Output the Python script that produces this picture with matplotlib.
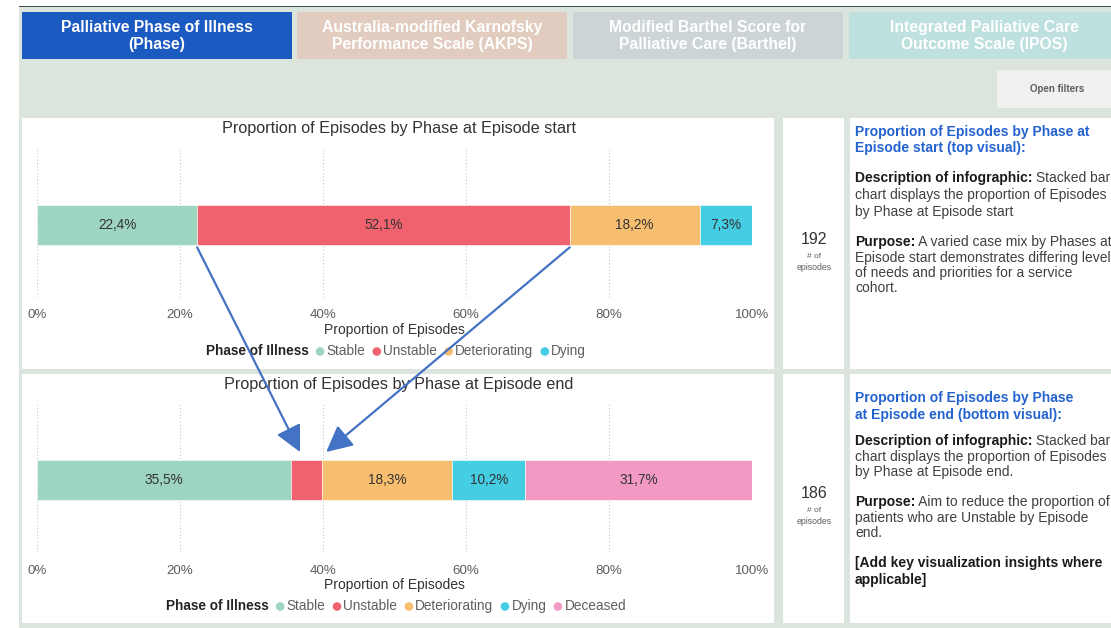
import matplotlib
matplotlib.use('Agg')
import matplotlib.pyplot as plt
from matplotlib.patches import Rectangle, Circle, ConnectionPatch

plt.rcParams['font.family'] = ['Liberation Sans', 'DejaVu Sans']

# ---------------- data ----------------
phases_start = ['Stable', 'Unstable', 'Deteriorating', 'Dying']
values_start = [22.4, 52.1, 18.2, 7.3]
phases_end = ['Stable', 'Unstable', 'Deteriorating', 'Dying', 'Deceased']
values_end = [35.5, 4.3, 18.3, 10.2, 31.7]
episodes_start = 192
episodes_end = 186
tick_values = [0, 20, 40, 60, 80, 100]
tick_labels = ['0%', '20%', '40%', '60%', '80%', '100%']
phase_colors = {'Stable': '#9DD5C0', 'Unstable': '#F0636E', 'Deteriorating': '#F8BE6F',
                'Dying': '#45CDE4', 'Deceased': '#F29AC3'}
tab_labels = ['Palliative Phase of Illness\n(Phase)',
              'Australia-modified Karnofsky\nPerformance Scale (AKPS)',
              'Modified Barthel Score for\nPalliative Care (Barthel)',
              'Integrated Palliative Care\nOutcome Scale (IPOS)']
tab_colors = ['#1B5AC1', '#E1CCBF', '#CCD4D7', '#BEE0DE']
title_start = 'Proportion of Episodes by Phase at Episode start'
title_end = 'Proportion of Episodes by Phase at Episode end'
legend_title = 'Phase of Illness'
xlabel = 'Proportion of Episodes'

W, H = 1111, 628
fig = plt.figure(figsize=(W / 100, H / 100), dpi=100)
fig.patch.set_facecolor('white')

ax_bg = fig.add_axes([0, 0, 1, 1])
ax_bg.set_xlim(0, W)
ax_bg.set_ylim(H, 0)
ax_bg.axis('off')

BG = '#DCE4DE'
ax_bg.add_patch(Rectangle((19, 6), W - 19, H - 6, color=BG, lw=0))
ax_bg.add_patch(Rectangle((19, 5.5), W - 19, 1.6, color='#3E4C52', lw=0))

# tabs
tab_x = [22, 297, 573, 849]
for x0, lab, col in zip(tab_x, tab_labels, tab_colors):
    ax_bg.add_patch(Rectangle((x0, 12), 270, 47, color=col, lw=0))
    ax_bg.text(x0 + 135, 36, lab, ha='center', va='center', fontsize=11.3,
               fontweight='bold', color='white', linespacing=1.1)

# open filters button
ax_bg.add_patch(Rectangle((997, 70), 120, 38, color='#EEF1EE', lw=0))
ax_bg.text(1057, 89, 'Open filters', ha='center', va='center', fontsize=7,
           fontweight='bold', color='#605E5C')

# panels
for (y0, y1) in [(118, 369), (374, 623)]:
    ax_bg.add_patch(Rectangle((22, y0), 752, y1 - y0, color='white', lw=0))
    ax_bg.add_patch(Rectangle((783, y0), 61, y1 - y0, color='white', lw=0))
    ax_bg.add_patch(Rectangle((850, y0), 270, y1 - y0, color='white', lw=0))


def fig_rect(x0, y0, x1, y1):
    return [x0 / W, 1 - y1 / H, (x1 - x0) / W, (y1 - y0) / H]


def fmt(v):
    return f'{v:.1f}'.replace('.', ',') + '%'


def bar_chart(ypx, phases, values):
    ax = fig.add_axes(fig_rect(37, ypx[0], 752, ypx[1]))
    ax.set_facecolor('none')
    left = 0
    for p, v in zip(phases, values):
        ax.barh(0, v, left=left, height=0.5, color=phase_colors[p],
                edgecolor='white', linewidth=0.4, zorder=2)
        if v >= 5:
            ax.text(left + v / 2, 0, fmt(v), ha='center', va='center',
                    fontsize=9.8, color='#333333', zorder=3)
        left += v
    ax.set_xlim(0, 100)
    ax.set_ylim(-0.9, 0.9625)
    ax.set_xticks(tick_values, tick_labels)
    ax.set_yticks([])
    ax.tick_params(axis='x', length=0, pad=9, labelsize=9.6, labelcolor='#605E5C')
    for s in ax.spines.values():
        s.set_visible(False)
    ax.grid(axis='x', linestyle=(0, (1, 2)), color='#C8C6C4', linewidth=0.8, zorder=0)
    ax.set_axisbelow(True)
    ax.set_xlabel(xlabel, fontsize=10, color='#333333')
    ax.xaxis.set_label_coords(0.5, -33 / 149)
    ax.xaxis.label.set_va('center')
    return ax


ax_top = bar_chart((148, 297), phases_start, values_start)
ax_bot = bar_chart((403, 552), phases_end, values_end)

ax_bg.text(399, 129, title_start, ha='center', va='center', fontsize=11.7, color='#333333')
ax_bg.text(399, 384, title_end, ha='center', va='center', fontsize=11.7, color='#333333')

renderer = fig.canvas.get_renderer()


def draw_legend(phases, y, cx):
    items = []
    t = ax_bg.text(0, y, legend_title, ha='left', va='center', fontsize=9.8,
                   fontweight='bold', color='#252423')
    w = t.get_window_extent(renderer).width
    items.append(('t', t, w))
    total = w
    for p in phases:
        total += 7
        items.append(('d', p, 0))
        total += 5 + 6
        tt = ax_bg.text(0, y, p, ha='left', va='center', fontsize=9.8, color='#605E5C')
        tw = tt.get_window_extent(renderer).width
        items.append(('t', tt, tw))
        total += tw
    x = cx - total / 2
    for kind, obj, w in items:
        if kind == 't':
            obj.set_x(x)
            x += w
        else:
            x += 7
            ax_bg.add_patch(Circle((x + 4.5, y + 0.5), 4.3, color=phase_colors[obj], lw=0))
            x += 11


draw_legend(phases_start, 351, 396)
draw_legend(phases_end, 606, 396)

# counts
for cnt, y in [(episodes_start, 239), (episodes_end, 494)]:
    ax_bg.text(814, y, str(cnt), ha='center', va='center', fontsize=11.5, color='#333333')
    ax_bg.text(814, y + 17, '# of', ha='center', va='center', fontsize=6, color='#605E5C')
    ax_bg.text(814, y + 28, 'episodes', ha='center', va='center', fontsize=6.3, color='#605E5C')

HEAD = '#2463CF'


def rich_line(x, y, segments):
    for text, weight, color in segments:
        t = ax_bg.text(x, y, text, ha='left', va='center', fontsize=10,
                       fontweight=weight, color=color)
        x += t.get_window_extent(renderer).width


B, R, DK, TX = 'bold', 'normal', '#1A1A1A', '#404040'
top_lines = [
    (132, [('Proportion of Episodes by Phase at', B, HEAD)]),
    (148, [('Episode start (top visual):', B, HEAD)]),
    (178, [('Description of infographic:', B, DK), (' Stacked bar', R, TX)]),
    (195, [('chart displays the proportion of Episodes', R, TX)]),
    (212, [('by Phase at Episode start', R, TX)]),
    (242, [('Purpose:', B, DK), (' A varied case mix by Phases at', R, TX)]),
    (258, [('Episode start demonstrates differing level', R, TX)]),
    (273, [('of needs and priorities for a service', R, TX)]),
    (288, [('cohort.', R, TX)]),
]
bot_lines = [
    (398, [('Proportion of Episodes by Phase', B, HEAD)]),
    (415, [('at Episode end (bottom visual):', B, HEAD)]),
    (441, [('Description of infographic:', B, DK), (' Stacked bar', R, TX)]),
    (457, [('chart displays the proportion of Episodes', R, TX)]),
    (472, [('by Phase at Episode end.', R, TX)]),
    (502, [('Purpose:', B, DK), (' Aim to reduce the proportion of', R, TX)]),
    (518, [('patients who are Unstable by Episode', R, TX)]),
    (533, [('end.', R, TX)]),
    (563, [('[Add key visualization insights where', B, DK)]),
    (580, [('applicable]', B, DK)]),
]
for y, segs in top_lines + bot_lines:
    rich_line(855, y, segs)

# arrows from the top bar's Unstable boundaries to the bottom Unstable segment
cum_start = [sum(values_start[:i + 1]) for i in range(len(values_start))]
cum_end = [sum(values_end[:i + 1]) for i in range(len(values_end))]
tips = [cum_end[0] + 0.3 * values_end[1], cum_end[1] + 0.15 * values_end[1]]
starts = [cum_start[0], cum_start[1]]
for s, e in zip(starts, tips):
    cp = ConnectionPatch(xyA=(s, -0.28), coordsA=ax_top.transData,
                         xyB=(e, 0.35), coordsB=ax_bot.transData,
                         arrowstyle='-|>,head_length=0.8,head_width=0.4',
                         mutation_scale=20, color='#4472C4', lw=1.6, zorder=10)
    fig.add_artist(cp)

fig.savefig('out.png', dpi=100)
